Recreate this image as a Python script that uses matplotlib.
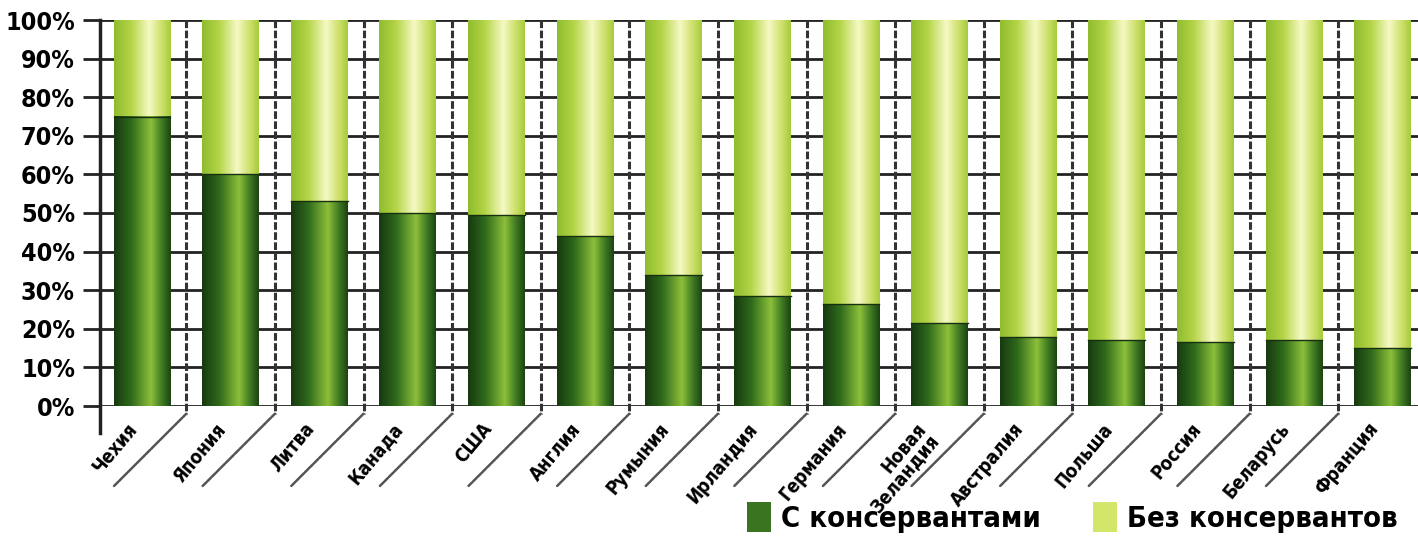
import numpy as np
import matplotlib
matplotlib.use("Agg")
import matplotlib.pyplot as plt
from matplotlib import font_manager as fm
from matplotlib.colors import LinearSegmentedColormap
from matplotlib.patches import Patch

countries = ["Чехия", "Япония", "Литва", "Канада", "США", "Англия", "Румыния",
             "Ирландия", "Германия", "Новая\nЗеландия", "Австралия", "Польша",
             "Россия", "Беларусь", "Франция"]
with_pres = [75, 60, 53, 50, 49.5, 44, 34, 28.5, 26.5, 21.5, 18, 17, 16.5, 17, 15]
without_pres = [100 - v for v in with_pres]
yticks = list(range(0, 101, 10))
legend_labels = ["С консервантами", "Без консервантов"]

# pick a condensed bold face if one is around, else plain Liberation Sans
fonts = fm.fontManager.ttflist
names = {f.name for f in fonts}
stretch = 'normal'
if 'Liberation Sans Narrow' in names:
    family = 'Liberation Sans Narrow'
    scale = 1.2
elif any(f.name == 'DejaVu Sans' and f.stretch == 'condensed' for f in fonts):
    family = 'DejaVu Sans'
    stretch = 'condensed'
    scale = 1.0
else:
    family = 'Liberation Sans'
    scale = 0.95
plt.rcParams['font.family'] = [family, 'DejaVu Sans']
plt.rcParams['font.weight'] = 'bold'
plt.rcParams['font.stretch'] = stretch

dark_cmap = LinearSegmentedColormap.from_list(
    "dark", [(0, "#173a10"), (0.3, "#2f6a1c"), (0.65, "#8cbf3a"), (0.85, "#3f7a22"), (1, "#1d4514")])
light_cmap = LinearSegmentedColormap.from_list(
    "light", [(0, "#8fbd2e"), (0.3, "#b5d548"), (0.62, "#f6f9c4"), (0.85, "#cde06a"), (1, "#a6cb3c")])

fig = plt.figure(figsize=(14.18, 5.4), dpi=100)
ax = fig.add_axes([100 / 1418, 1 - 406 / 540, 1318 / 1418, 386 / 540])

x = np.arange(len(countries))
w = 0.64
grad = np.linspace(0, 1, 64).reshape(1, -1)

for xi, lo, hi in zip(x, with_pres, without_pres):
    ax.imshow(grad, extent=[xi - w / 2, xi + w / 2, 0, lo], aspect='auto',
              cmap=dark_cmap, zorder=3, interpolation='bicubic')
    ax.imshow(grad, extent=[xi - w / 2, xi + w / 2, lo, lo + hi], aspect='auto',
              cmap=light_cmap, zorder=3, interpolation='bicubic')
    ax.plot([xi - w / 2, xi + w / 2], [lo, lo], color="#163010", lw=1, zorder=4)

ax.set_xlim(-0.474, 14.40)
ax.set_ylim(0, 100)

# horizontal grid between bars
for yv in yticks:
    ax.axhline(yv, color="#222222", lw=2, zorder=1)

# dividers between categories, with diagonal leaders under labels
for xi in x[:-1]:
    xd = xi + 0.5
    ax.plot([xd, xd], [100, -2], color="#333333", lw=2.2,
            ls=(0, (2.5, 0.8)), zorder=2, clip_on=False)
    ax.annotate("", xy=(xd, -2), xycoords='data',
                xytext=(-52, -52), textcoords='offset points',
                arrowprops=dict(arrowstyle='-', color="#555555", lw=1.8,
                                ls=(0, (2, 0.6)), shrinkA=0, shrinkB=0),
                annotation_clip=False)

ax.spines['top'].set_visible(False)
ax.spines['right'].set_visible(False)
ax.spines['bottom'].set_visible(False)
ax.spines['left'].set_bounds(-7, 100)
ax.spines['left'].set_linewidth(2.5)
ax.spines['left'].set_color("#222222")

ax.set_yticks(yticks)
ax.set_yticklabels([f"{v}%" for v in yticks], fontsize=18 * scale, fontweight='bold')
ax.tick_params(axis='y', length=12, width=2, color="#222222", pad=6)
ax.set_xticks([])

for xi, name in zip(x, countries):
    shift = 0.17 + (0.1 if "\n" in name else 0)
    ax.text(xi - shift, -3.5, name, rotation=50, rotation_mode='anchor',
            ha='right', va='top', fontsize=13.5 * scale, fontweight='bold',
            transform=ax.transData, linespacing=0.85)

handles = [Patch(facecolor="#3a7420", edgecolor="none"),
           Patch(facecolor="#d4e66a", edgecolor="none")]
fig.legend(handles, legend_labels, loc='lower right', bbox_to_anchor=(1.004, -0.035),
           ncol=2, frameon=False, handlelength=0.8, handleheight=1.2,
           handletextpad=0.35, columnspacing=1.8,
           prop={'weight': 'bold', 'size': 21 * scale, 'stretch': stretch})

fig.savefig("out.png", dpi=100, facecolor="white")
